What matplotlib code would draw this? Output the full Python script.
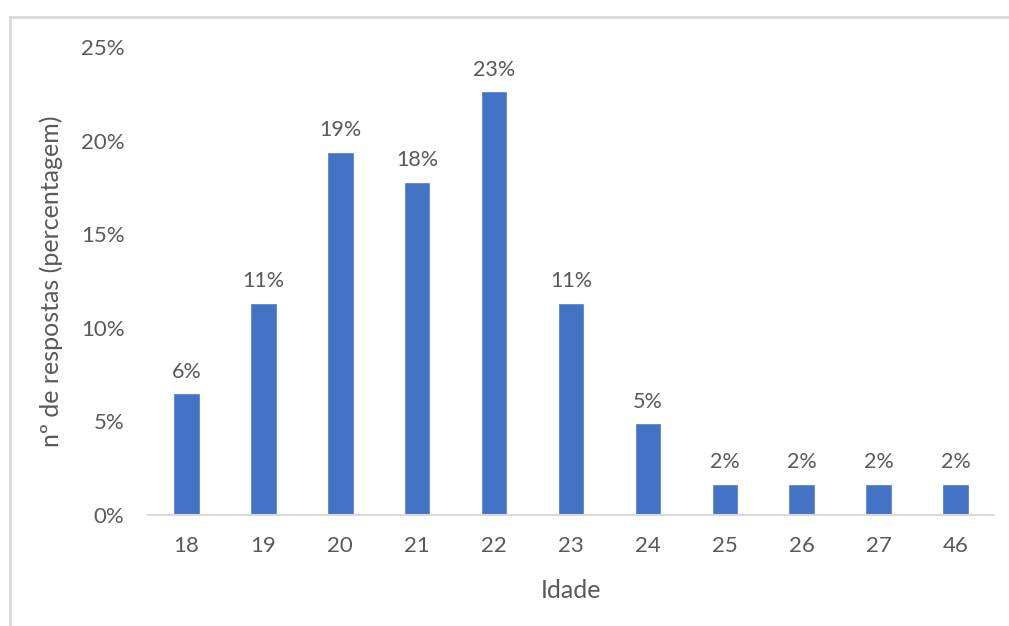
import matplotlib.pyplot as plt
from matplotlib.lines import Line2D
from matplotlib.ticker import FuncFormatter

# data (share of answers, in %)
idades = ['18', '19', '20', '21', '22', '23', '24', '25', '26', '27', '46']
percentagem = [6.45, 11.29, 19.35, 17.74, 22.58, 11.29, 4.84, 1.61, 1.61, 1.61, 1.61]
rotulos = ['6%', '11%', '19%', '18%', '23%', '11%', '5%', '2%', '2%', '2%', '2%']

plt.rcParams['font.family'] = ['Lato', 'DejaVu Sans']
texto = '#595959'
azul = '#4472C4'

fig = plt.figure(figsize=(10.09, 6.26), dpi=100)
ax = fig.add_axes([148 / 1009, 111 / 626, 846 / 1009, 468 / 626])

x = range(len(idades))
bars = ax.bar(x, percentagem, width=0.32, color=azul, edgecolor='#5b86d0', linewidth=0.6)

for b, lab in zip(bars, rotulos):
    ax.annotate(lab, (b.get_x() + b.get_width() / 2, b.get_height()),
                xytext=(0, 9), textcoords='offset points',
                ha='center', va='bottom', fontsize=15.5, color=texto)

ax.set_xlim(-0.5, len(idades) - 0.5)
ax.set_ylim(0, 25)
ax.set_yticks([0, 5, 10, 15, 20, 25])
ax.yaxis.set_major_formatter(FuncFormatter(lambda v, p: f'{v:.0f}%'))
ax.set_xticks(list(x))
ax.set_xticklabels(idades)

for s in ['top', 'right', 'left']:
    ax.spines[s].set_visible(False)
ax.spines['bottom'].set_color('#d9d9d9')
ax.spines['bottom'].set_linewidth(1.5)
ax.tick_params(axis='both', length=0, labelsize=16, labelcolor=texto)
ax.tick_params(axis='y', pad=17)
ax.tick_params(axis='x', pad=15)

ax.set_xlabel('Idade', fontsize=18, color=texto, labelpad=17)
ax.set_ylabel('nº de respostas (percentagem)', fontsize=18, color=texto, labelpad=13)

# chart area frame (only top and left edges are inside the picture)
x0 = 10 / 1009
y0 = 1 - 17 / 626
fig.add_artist(Line2D([x0, 1.0], [y0, y0], transform=fig.transFigure, color='#d9d9d9', linewidth=2))
fig.add_artist(Line2D([x0, x0], [0.0, y0], transform=fig.transFigure, color='#d9d9d9', linewidth=2))

fig.savefig('out.png', dpi=100)
